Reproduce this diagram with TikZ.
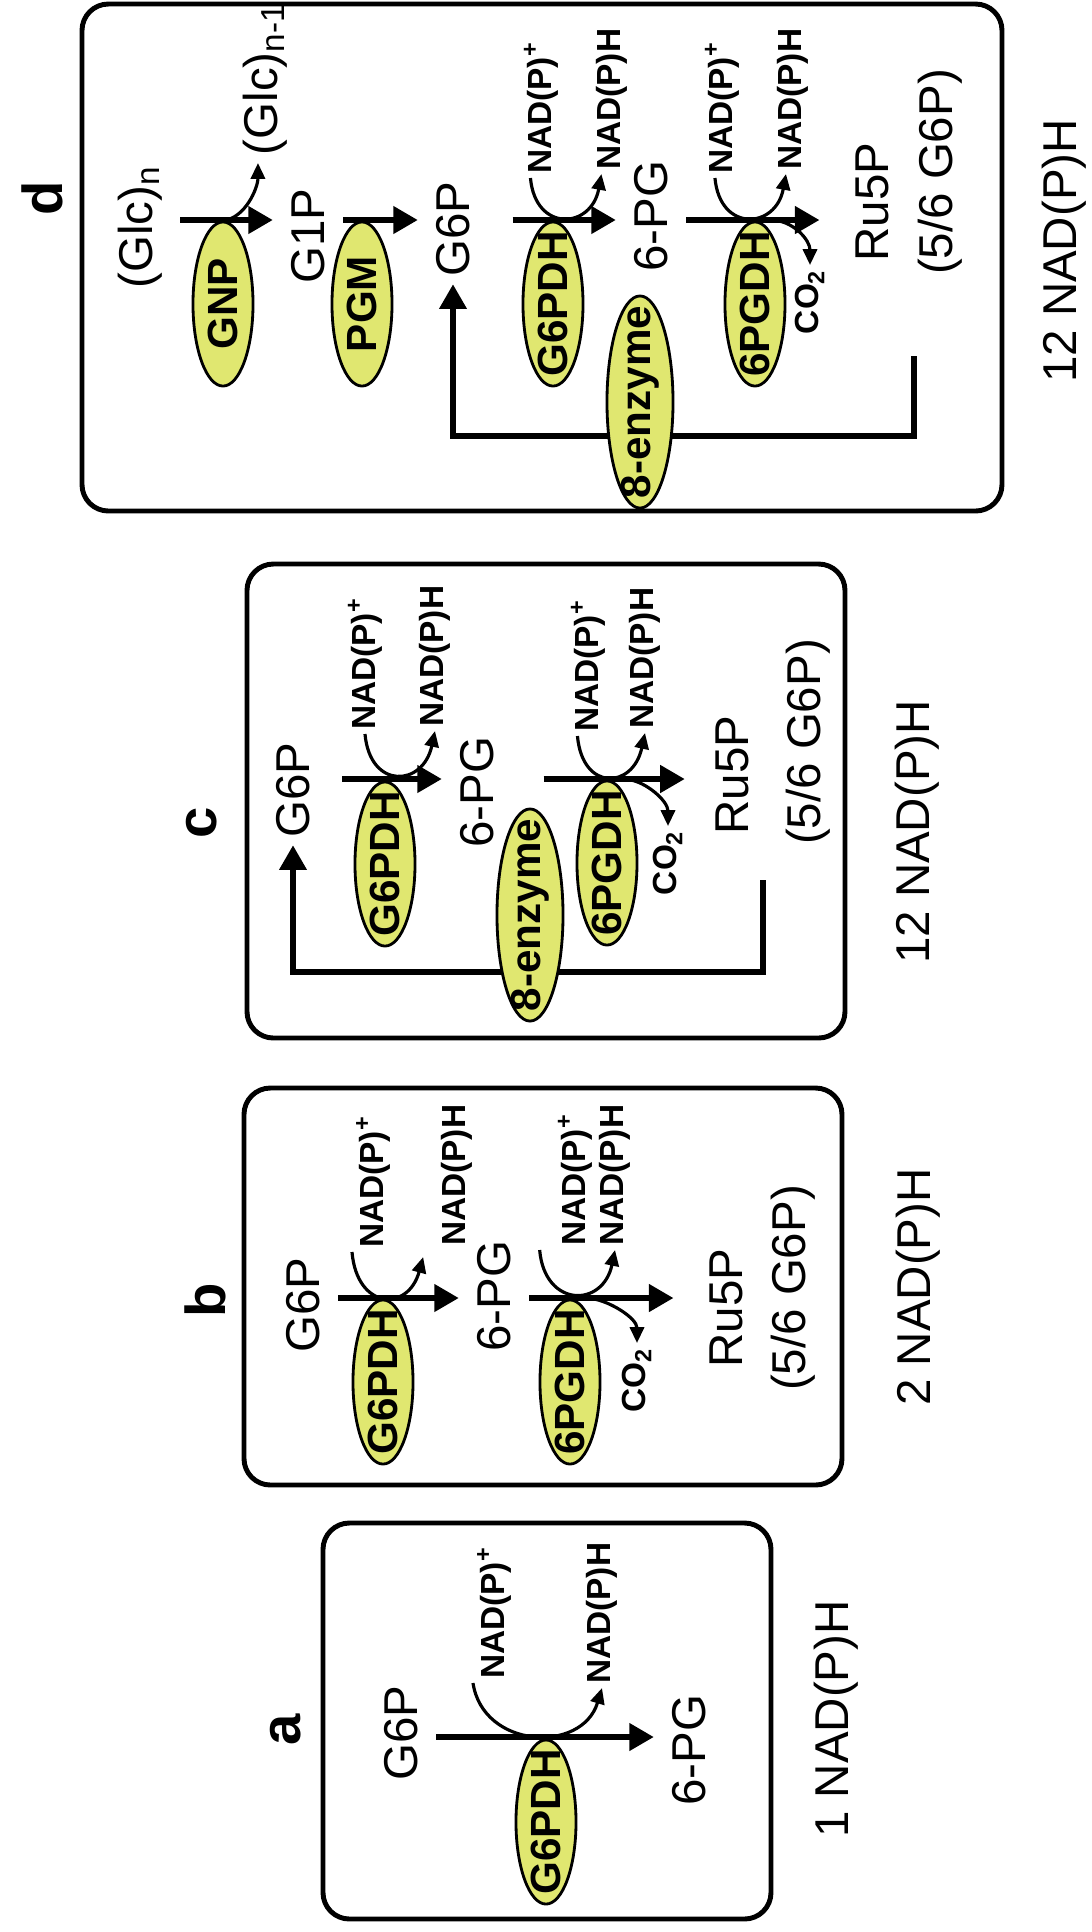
\documentclass[tikz,border=0pt]{standalone}
\usepackage{fontspec}
\setmainfont{Liberation Sans}
\usetikzlibrary{arrows.meta,shapes.geometric,positioning}
\definecolor{enzfill}{RGB}{224,231,112}
\newcommand{\enzname}[1]{\makebox[0pt]{#1}}
\tikzset{
  panel/.style={line width=1.4pt, rounded corners=7.5pt},
  met/.style={rotate=90, inner sep=2pt, font=\fontsize{13.5}{15}\selectfont},
  cofac/.style={rotate=90, inner sep=1pt, font=\bfseries\fontsize{9.5}{11}\selectfont},
  enz/.style={rotate=90, ellipse, draw, line width=0.8pt, fill=enzfill, inner sep=0pt,
              minimum width=1.64cm, minimum height=0.6cm, font=\bfseries\fontsize{12}{13}\selectfont},
  bigenz/.style={enz, minimum width=2.12cm, minimum height=0.66cm},
  sumlabel/.style={rotate=90, font=\fontsize{13.5}{15}\selectfont},
  panellabel/.style={rotate=90, font=\bfseries\fontsize{16}{18}\selectfont},
  flow/.style={line width=1.8pt, shorten <=3pt, shorten >=3pt, -{Triangle[length=7pt,width=7.5pt]}},
  side/.style={line width=0.9pt, -{Triangle[length=4.5pt,width=4pt]}},
  recycle/.style={line width=1.6pt, -{Triangle[length=7pt,width=7.5pt]}},
}

\begin{document}
\begin{tikzpicture}[x=0.01cm, y=-0.01cm]
  \useasboundingbox (0,0) rectangle (1092,1932);

  % a: G6PDH only
  \coordinate (a-axis) at (0,1737);
  \node[panellabel] (lab-a) at (286,1730) {a};
  \node[met] (a-g6p) at (401,1733) {G6P};
  \node[met] (a-6pg) at (689,1750) {6-PG};
  \node[cofac, anchor=north west] (a-nadp) at (473,1683) {NAD(P)\textsuperscript{+}};
  \node[cofac, anchor=west] (a-nadph) at (602,1688) {NAD(P)H};
  \node[sumlabel] (a-sum) at (836,1719) {1 NAD(P)H};
  \draw[panel] (323,1523) rectangle (771,1919);
  \draw[flow] (a-g6p.south |- a-axis) -- (a-6pg.north |- a-axis);
  \draw[side] (a-nadp.north west) .. controls +(10,66) and +(-20,66) .. (a-nadph.west);
  \node[enz] (a-g6pdh) at (546,1822) {\enzname{G6PDH}};

  % b: G6PDH + 6PGDH
  \coordinate (b-axis) at (0,1298);
  \node[panellabel] (lab-b) at (205,1300) {b};
  \node[met] (b-g6p) at (303,1305) {G6P};
  \node[met] (b-6pg) at (494,1296) {6-PG};
  \node[met] (b-ru5p) at (726,1308) {Ru5P};
  \node[met] (b-frac) at (793,1288) {(5/6 G6P)};
  \node[cofac, anchor=north west] (b-nadp1) at (352,1252) {NAD(P)\textsuperscript{+}};
  \node[cofac, anchor=west] (b-nadph1) at (457,1250) {NAD(P)H};
  \node[cofac, anchor=west] (b-nadp2) at (575,1250) {NAD(P)\textsuperscript{+}};
  \node[cofac, anchor=west] (b-nadph2) at (615,1250) {NAD(P)H};
  \node[cofac, anchor=east] (b-co2) at (637,1343) {CO\textsubscript{2}};
  \node[sumlabel] (b-sum) at (918,1287) {2 NAD(P)H};
  \draw[panel] (244,1088) rectangle (842,1485);
  \draw[flow] (b-g6p.south |- b-axis) -- (b-6pg.north |- b-axis);
  \draw[flow, shorten >=8pt] (b-6pg.south |- b-axis) -- (b-ru5p.north |- b-axis);
  \draw[side] (b-nadp1.north west) .. controls +(5,58) and +(-15,55) .. ([shift={(-4pt,-2pt)}]b-nadph1.north west);
  \draw[side] ([xshift=-4pt]b-nadp2.north west) .. controls +(5,58) and +(-12,58) .. (b-nadph2.west);
  \node[enz] (b-g6pdh) at (383,1382) {\enzname{G6PDH}};
  \node[enz] (b-6pgdh) at (570,1382) {\enzname{6PGDH}};
  \draw[side] ([xshift=6pt]b-6pgdh.east) .. controls +(18,2) and +(0,-25) .. (b-co2.east);

  % c: with 8-enzyme recycling
  \coordinate (c-axis) at (0,779);
  \coordinate (c-back) at (763,880);
  \node[panellabel] (lab-c) at (202,823) {c};
  \node[met] (c-g6p) at (293,790) {G6P};
  \node[met] (c-6pg) at (477,792) {6-PG};
  \node[met] (c-ru5p) at (732,775) {Ru5P};
  \node[met] (c-frac) at (808,742) {(5/6 G6P)};
  \node[cofac, anchor=west] (c-nadp1) at (365,734) {NAD(P)\textsuperscript{+}};
  \node[cofac, anchor=west] (c-nadph1) at (435,731) {NAD(P)H};
  \node[cofac, anchor=west] (c-nadp2) at (588,736) {NAD(P)\textsuperscript{+}};
  \node[cofac, anchor=west] (c-nadph2) at (645,733) {NAD(P)H};
  \node[cofac, anchor=east] (c-co2) at (668,826) {CO\textsubscript{2}};
  \node[sumlabel] (c-sum) at (917,832) {12 NAD(P)H};
  \draw[panel] (247,564) rectangle (845,1038);
  \draw[flow, shorten <=7pt] (c-g6p.south |- c-axis) -- (c-6pg.north |- c-axis);
  \draw[flow, shorten <=12pt, shorten >=6.5pt] (c-6pg.south |- c-axis) -- (c-ru5p.north |- c-axis);
  \draw[side] (c-nadp1.west) .. controls +(5,56) and +(-12,56) .. (c-nadph1.west);
  \draw[side] ([xshift=-3pt]c-nadp2.west) .. controls +(5,56) and +(-12,56) .. (c-nadph2.west);
  \draw[recycle] (c-back) -- ++(0,92) -| (c-g6p);
  \node[enz] (c-g6pdh) at (385,864) {\enzname{G6PDH}};
  \node[enz] (c-6pgdh) at (607,863) {\enzname{6PGDH}};
  \node[bigenz] (c-8enz) at (530,915) {\enzname{8-enzyme}};
  \draw[side] ([xshift=6pt]c-6pgdh.east) .. controls +(18,2) and +(0,-25) .. (c-co2.east);

  % d: starch to Ru5P
  \coordinate (d-axis) at (0,220);
  \coordinate (d-back) at (914,356);
  \node[panellabel] (lab-d) at (42,198) {d};
  \node[met] (d-glcn) at (140,227) {(Glc)\textsubscript{n}};
  \node[met] (d-g1p) at (308,236) {G1P};
  \node[met] (d-g6p) at (453,229) {G6P};
  \node[met] (d-6pg) at (651,216) {6-PG};
  \node[met] (d-ru5p) at (872,202) {Ru5P};
  \node[met] (d-frac) at (940,172) {(5/6 G6P)};
  \node[met, anchor=west] (d-glcn1) at (265,163) {(Glc)\textsubscript{n-1}};
  \node[cofac, anchor=west] (d-nadp1) at (541,178) {NAD(P)\textsuperscript{+}};
  \node[cofac, anchor=west] (d-nadph1) at (612,174) {NAD(P)H};
  \node[cofac, anchor=west] (d-nadp2) at (722,178) {NAD(P)\textsuperscript{+}};
  \node[cofac, anchor=west] (d-nadph2) at (793,174) {NAD(P)H};
  \node[cofac, anchor=east] (d-co2) at (810,265) {CO\textsubscript{2}};
  \node[sumlabel] (d-sum) at (1064,251) {12 NAD(P)H};
  \draw[panel] (82,4) rectangle (1002,511);
  \draw[flow] (d-glcn.south |- d-axis) -- (d-g1p.north |- d-axis);
  \draw[flow] (d-g1p.south |- d-axis) -- (d-g6p.north |- d-axis);
  \draw[flow, shorten <=10pt] (d-g6p.south |- d-axis) -- (d-6pg.north |- d-axis);
  \draw[flow, shorten >=8pt] (d-6pg.south |- d-axis) -- (d-ru5p.north |- d-axis);
  \draw[side] ([xshift=-3pt]d-nadp1.west) .. controls +(5,55) and +(-10,55) .. ([xshift=-3pt]d-nadph1.west);
  \draw[side] ([xshift=-2pt]d-nadp2.west) .. controls +(5,55) and +(-10,55) .. ([xshift=-2pt]d-nadph2.west);
  \draw[recycle] (d-back) -- ++(0,80) -| (d-g6p);
  \node[enz] (d-gnp) at (223,304) {\enzname{GNP}};
  \node[enz] (d-pgm) at (362,304) {\enzname{PGM}};
  \node[enz] (d-g6pdh) at (553,304) {\enzname{G6PDH}};
  \node[enz] (d-6pgdh) at (755,304) {\enzname{6PGDH}};
  \node[bigenz] (d-8enz) at (640,402) {\enzname{8-enzyme}};
  \draw[side] (d-gnp.east) .. controls +(22,-2) and +(0,25) .. ([xshift=-2pt]d-glcn1.west);
  \draw[side] ([xshift=6pt]d-6pgdh.east) .. controls +(18,2) and +(0,-25) .. (d-co2.east);
\end{tikzpicture}
\end{document}
